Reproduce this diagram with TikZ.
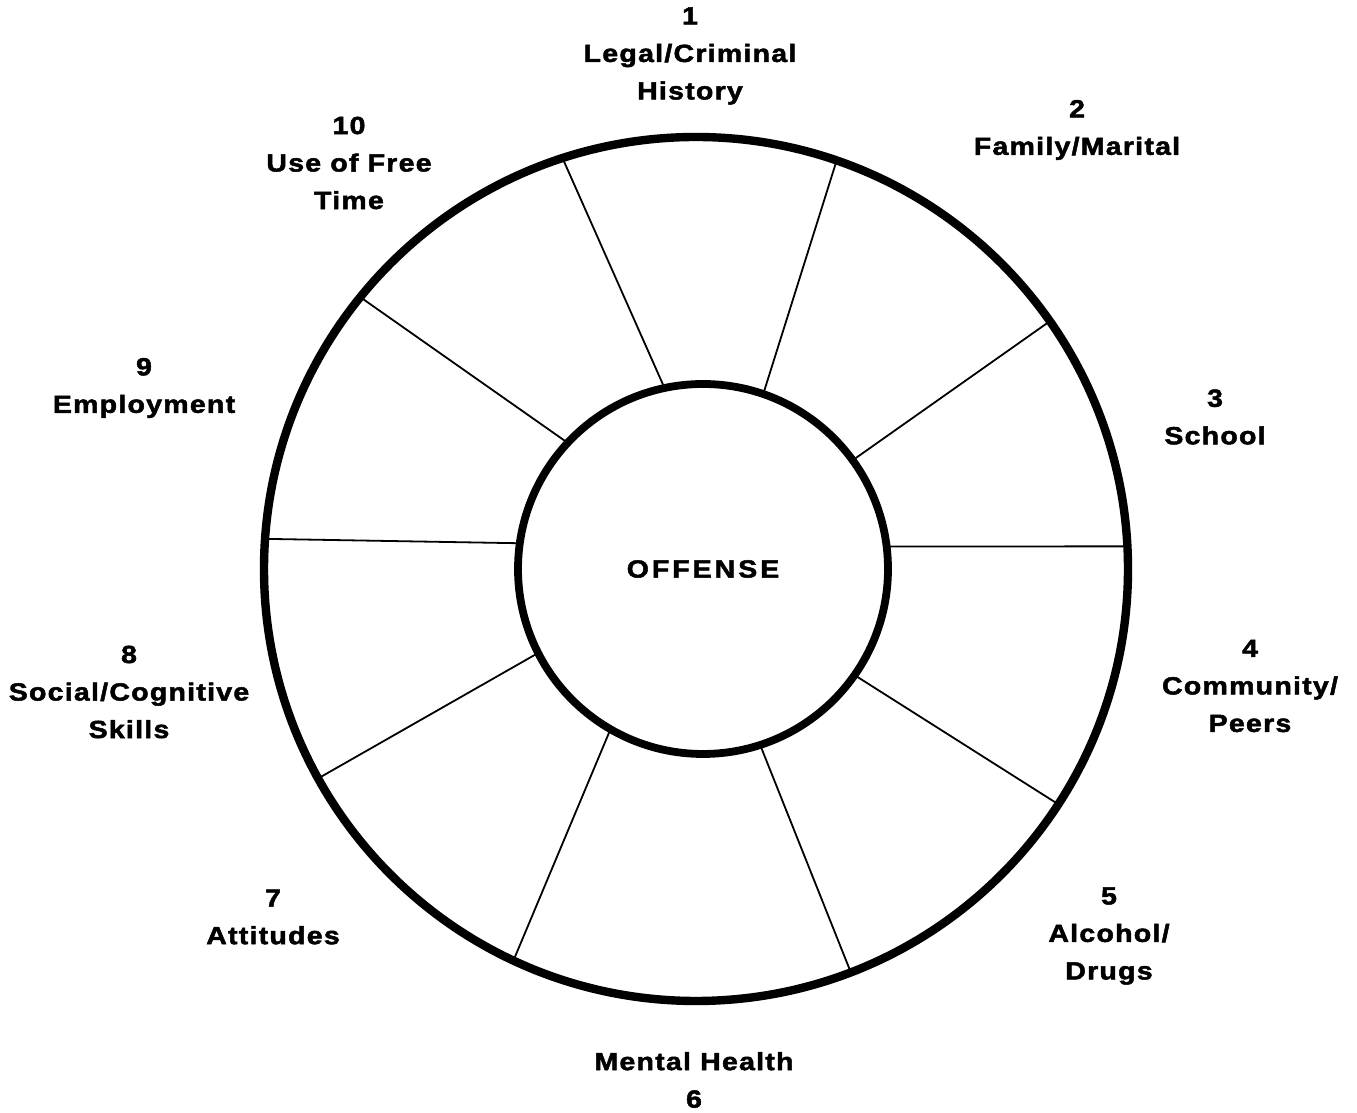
\documentclass[tikz,border=0pt]{standalone}
\usepackage{fontspec}
\newfontfamily\labfont{Liberation Sans}[FakeStretch=1.15,LetterSpace=5,FakeBold=2]
\usetikzlibrary{positioning}

\begin{document}
\begin{tikzpicture}[x=0.5pt,y=0.5pt,
      lab/.style={font=\labfont\bfseries\fontsize{12.4}{18.75}\selectfont,align=center},
      ring/.style={circle,draw,inner sep=0pt,outer sep=0pt},
      spoke/.style={line width=0.9pt}]
    \useasboundingbox (0,0) rectangle (1357,1113);
    \node[ring,line width=4.2pt,minimum size=432pt] (wheel) at (696,544) {};
    \node[ring,lab,line width=3.9pt,minimum size=185pt] (offense) at (703,544) {\addfontfeatures{LetterSpace=12}OFFENSE};
    % spokes between the rings
    \foreach \o/\i in {108.8/102.4,71.2/71.2,35.7/36.9,3.3/7.7,327/325.7,
                       291.5/288.2,245.1/240.2,209.5/207.5,176.6/172,141.3/137.3}
      \draw[spoke] (wheel.\o) -- (offense.\i);
    % domains
    \node[lab] (legal) at (690,1057) {1\\Legal/Criminal\\History};
    \node[lab] (family) at (1077,983) {2\\Family/Marital};
    \node[lab] (school) at (1215,696) {3\\School};
    \node[lab] (peers) at (1250,427) {4\\Community/\\Peers};
    \node[lab] (drugs) at (1109,177) {5\\Alcohol/\\Drugs};
    \node[lab] (health) at (694,33) {Mental Health\\6};
    \node[lab] (attitudes) at (273,196) {7\\Attitudes};
    \node[lab] (skills) at (129,421) {8\\Social/Cognitive\\Skills};
    \node[lab] (employ) at (144,725) {9\\Employment};
    \node[lab] (freetime) at (349,950) {10\\Use of Free\\Time};
  \end{tikzpicture}
\end{document}
